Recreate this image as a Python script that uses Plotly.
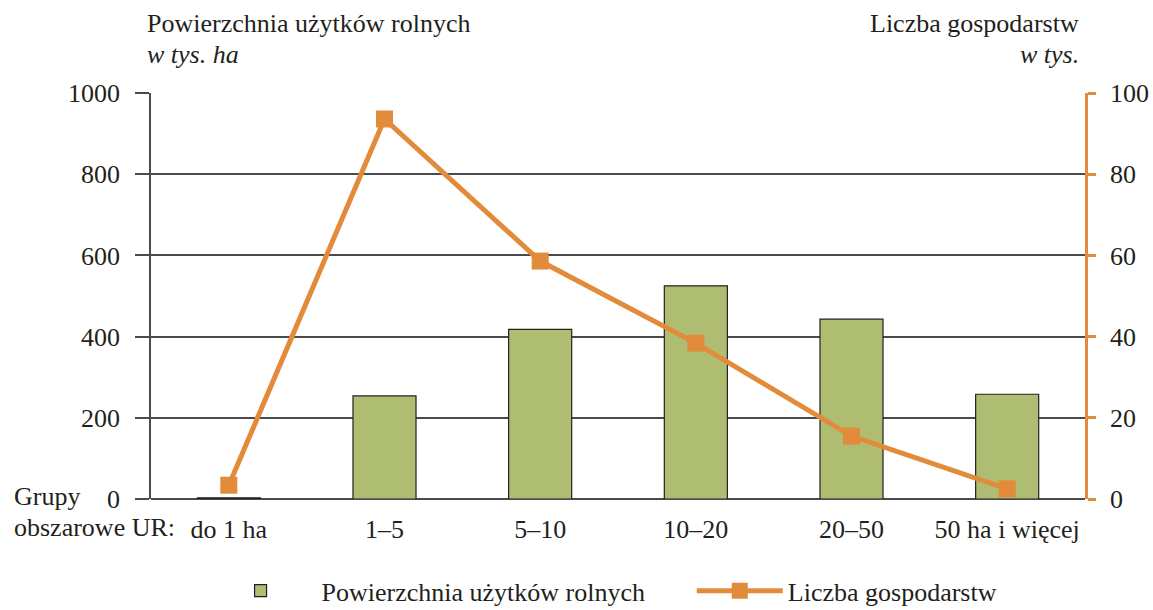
import plotly.graph_objects as go

categories = ["do 1 ha", "1–5", "5–10", "10–20", "20–50", "50 ha i więcej"]
area_values = [3, 254, 418, 525, 443, 258]          # tys. ha
farm_counts = [3.4, 93.6, 58.6, 38.4, 15.5, 2.5]     # tys.
left_ticks = [0, 200, 400, 600, 800, 1000]
right_ticks = [0, 20, 40, 60, 80, 100]

FONT = "Liberation Serif"
FS = 26
GREEN = "#AEBD72"
ORANGE = "#E28B3B"
GRID = "#4a4a4a"
TXT = "#231F20"

fig = go.Figure()
fig.add_trace(go.Bar(
    x=categories, y=area_values, name="Powierzchnia użytków rolnych",
    marker=dict(color=GREEN, line=dict(color="#222222", width=1.2)),
    width=0.405, yaxis="y", legend="legend",
))
fig.add_trace(go.Scatter(
    x=categories, y=farm_counts, name="Liczba gospodarstw",
    mode="lines+markers", yaxis="y2", legend="legend2",
    line=dict(color=ORANGE, width=5),
    marker=dict(symbol="square", size=17, color=ORANGE),
))

leg_common = dict(orientation="h", y=-0.226, yanchor="middle", xanchor="left",
                  font=dict(size=FS), bgcolor="rgba(0,0,0,0)")

fig.update_layout(
    width=1153, height=610,
    margin=dict(l=151, r=68, t=93, b=111, autoexpand=False),
    paper_bgcolor="white", plot_bgcolor="white",
    font=dict(family=FONT, size=FS, color=TXT),
    xaxis=dict(
        type="category", categoryorder="array", categoryarray=categories,
        showgrid=False, showline=False, zeroline=False,
        ticks="", tickfont=dict(size=FS), ticklabelstandoff=12,
    ),
    yaxis=dict(
        range=[0, 1000], tickvals=left_ticks,
        showgrid=True, gridcolor=GRID, gridwidth=1.5,
        showline=True, linecolor=GRID, linewidth=1.5,
        ticks="outside", ticklen=14, tickcolor=GRID, tickwidth=1.5,
        zeroline=True, zerolinecolor=GRID, zerolinewidth=1.5,
        tickfont=dict(size=FS), ticklabelstandoff=10,
    ),
    yaxis2=dict(
        range=[0, 100], tickvals=right_ticks, overlaying="y", side="right",
        showgrid=False, zeroline=False,
        showline=True, linecolor=ORANGE, linewidth=2.5,
        ticks="outside", ticklen=8, tickcolor=ORANGE, tickwidth=2.5,
        tickfont=dict(size=FS), ticklabelstandoff=9,
    ),
    legend=dict(x=0.052, itemwidth=112, **leg_common),
    legend2=dict(x=0.579, itemwidth=86, **leg_common),
    showlegend=True,
)

annotations = [
    dict(text="Powierzchnia użytków rolnych", x=-0.006, y=1.17, xanchor="left"),
    dict(text="<i>w tys. ha</i>", x=-0.006, y=1.096, xanchor="left"),
    dict(text="Liczba gospodarstw", x=0.996, y=1.17, xanchor="right"),
    dict(text="<i>w tys.</i>", x=0.996, y=1.096, xanchor="right"),
    dict(text="Grupy", x=-0.149, y=0.005, xanchor="left"),
    dict(text="obszarowe UR:", x=-0.149, y=-0.071, xanchor="left"),
]
for a in annotations:
    fig.add_annotation(xref="paper", yref="paper", yanchor="middle",
                       showarrow=False, font=dict(family=FONT, size=FS, color=TXT), **a)

fig.write_html(
    "out.html",
    config={"displayModeBar": False},
    post_script="document.body.style.margin='0';document.body.style.overflow='hidden';",
)
